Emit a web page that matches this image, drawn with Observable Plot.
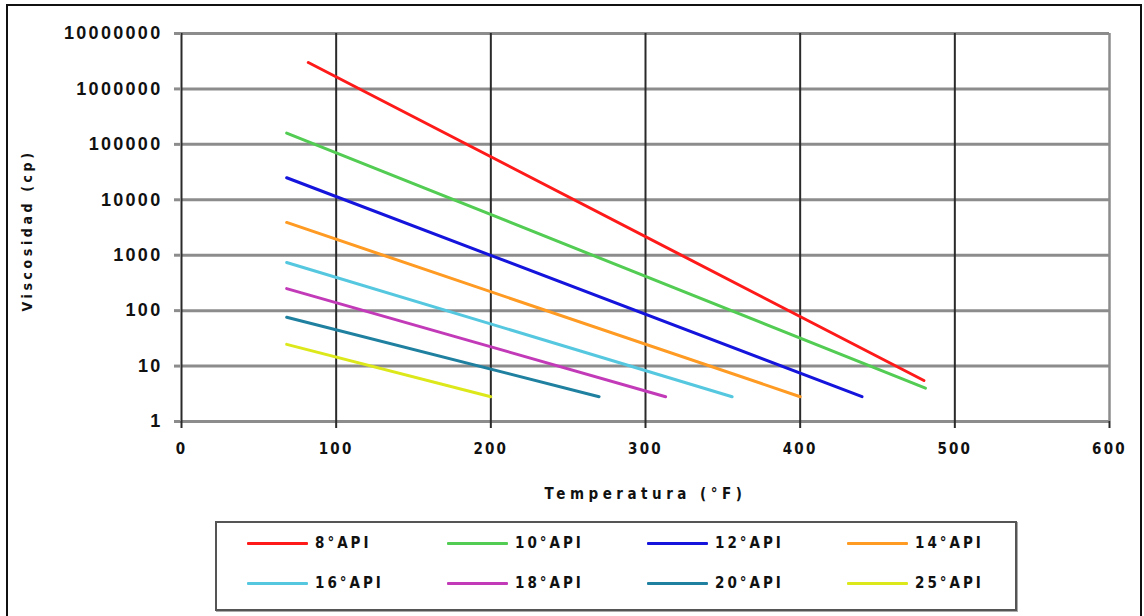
<!DOCTYPE html>
<html>
<head>
<meta charset="utf-8">
<script src="https://cdn.jsdelivr.net/npm/d3@7"></script>
<script src="https://cdn.jsdelivr.net/npm/@observablehq/plot@0.6"></script>
<style>
  body { margin: 0; background: #fff; }
  #page { position: relative; width: 1144px; height: 616px; overflow: hidden; background: #fff; }
  #frame { position: absolute; left: 6px; top: 4px; width: 1136px; height: 640px; border: 2px solid #111; box-sizing: border-box; }
  #chart { position: absolute; left: 0; top: 0; }
  #chart svg { background: transparent; }
  g[aria-label="y-axis tick label"] text { font-family: "Liberation Sans", Arial, sans-serif; font-size: 18px; font-weight: 600; letter-spacing: 2.3px; fill: #111; }
  g[aria-label="x-axis tick label"] text { font-family: "DejaVu Sans Condensed", sans-serif; font-size: 15px; font-weight: 700; letter-spacing: 2.2px; fill: #111; }
  g[aria-label="text"] text { font-family: "DejaVu Sans Condensed", sans-serif; font-weight: 700; fill: #111; }
  #legend { position: absolute; left: 215px; top: 521px; width: 802px; height: 90px; box-sizing: border-box;
            border: 2px solid #555; box-shadow: 1px 1px 0 #aaa; background: #fff;
            display: grid; grid-template-columns: repeat(4, 200px); grid-auto-rows: 20px; row-gap: 20px;
            padding: 10px 0 0 30px; }
  .item { display: flex; align-items: center; font-family: "DejaVu Sans Condensed", sans-serif;
          font-size: 15px; font-weight: 700; letter-spacing: 3px; color: #111; white-space: nowrap; }
  .sw { display: inline-block; width: 61px; height: 3px; margin-right: 7px; border-radius: 1px; }
</style>
</head>
<body>
<div id="page">
  <div id="frame"></div>
  <div id="chart"></div>
  <div id="legend"></div>
</div>
<script>
// Oil gravity grades and their viscosity–temperature lines (two end points each)
const grades = ["8°API", "10°API", "12°API", "14°API", "16°API", "18°API", "20°API", "25°API"];
const colors = ["#ff1a1a", "#52cc52", "#1414dc", "#ff9a22", "#55c8e0", "#c23ab8", "#1f80a0", "#dde81a"];
const tempStart = [82, 68, 68, 68, 68, 68, 68, 68];          // °F
const tempEnd = [480, 481, 440, 400, 356, 313, 270, 200];    // °F
const viscStart = [3.0e6, 1.6e5, 2.5e4, 3900, 740, 250, 76, 24.6]; // cp
const viscEnd = [5.5, 4.0, 2.8, 2.8, 2.8, 2.8, 2.8, 2.8];          // cp

// Axis ticks
const xTicks = [0, 100, 200, 300, 400, 500, 600];
const yTicks = [1, 10, 100, 1000, 10000, 100000, 1000000, 10000000];

const xTitle = "Temperatura (°F)";
const yTitle = "Viscosidad (cp)";

const rows = grades.flatMap((g, i) => [
  {grade: g, t: tempStart[i], mu: viscStart[i]},
  {grade: g, t: tempEnd[i], mu: viscEnd[i]}
]);

const chart = Plot.plot({
  width: 1144,
  height: 520,
  marginLeft: 181,
  marginRight: 35,
  marginTop: 33,
  marginBottom: 99,
  x: {domain: [0, 600]},
  y: {type: "log", domain: [1, 1e7]},
  color: {domain: grades, range: colors},
  marks: [
    Plot.ruleY(yTicks, {stroke: "#8c8c8c", strokeWidth: 3}),
    Plot.ruleX(xTicks.filter(d => d < 600), {stroke: "#2a2a2a", strokeWidth: 2}),
    Plot.ruleX([600], {stroke: "#8c8c8c", strokeWidth: 2.5}),
    Plot.axisY(yTicks, {tickSize: 7, tickPadding: 12, stroke: "#8c8c8c", strokeWidth: 3, tickFormat: d => String(d), label: null}),
    Plot.axisX(xTicks, {tickSize: 7, tickPadding: 15, stroke: "#2a2a2a", strokeWidth: 2, tickFormat: d => String(d), label: null}),
    Plot.line(rows, {x: "t", y: "mu", z: "grade", stroke: "grade", strokeWidth: 3}),
    Plot.text([xTitle], {text: d => d, frameAnchor: "bottom", dy: 73, lineAnchor: "middle", fontSize: 15}),
    Plot.text([yTitle], {text: d => d, frameAnchor: "left", textAnchor: "middle", dx: -154, dy: 3, rotate: -90,
      lineAnchor: "middle", fontSize: 14})
  ]
});
document.getElementById("chart").appendChild(chart);

// Per-title letter spacing
const titles = chart.querySelectorAll('g[aria-label="text"] text');
if (titles[0]) titles[0].style.letterSpacing = "4.5px";
if (titles[1]) titles[1].style.letterSpacing = "3.6px";

// Legend: two rows of four entries
const legend = document.getElementById("legend");
grades.forEach((g, i) => {
  const item = document.createElement("div");
  item.className = "item";
  const sw = document.createElement("span");
  sw.className = "sw";
  sw.style.background = colors[i];
  item.appendChild(sw);
  item.appendChild(document.createTextNode(g));
  legend.appendChild(item);
});
</script>
</body>
</html>
